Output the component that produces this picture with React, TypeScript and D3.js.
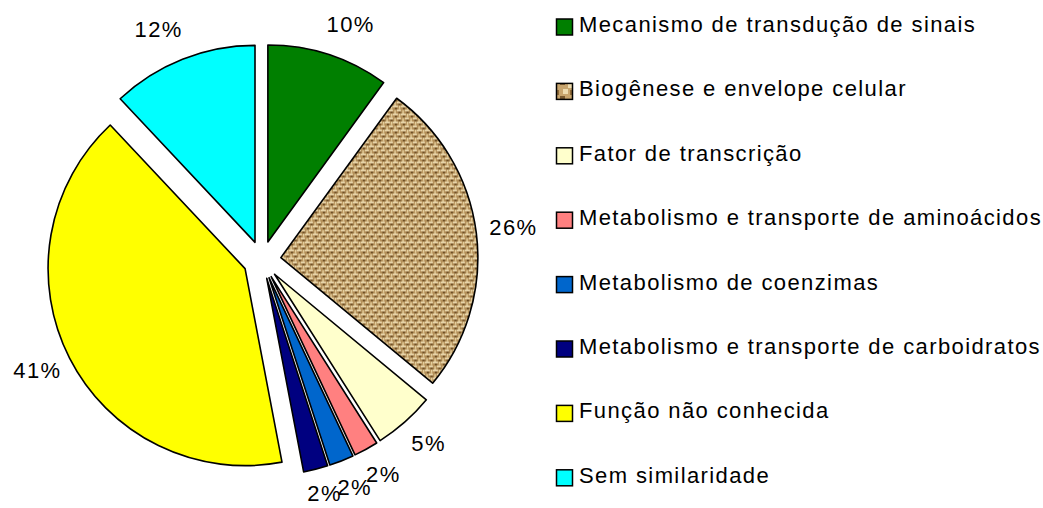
import * as d3 from 'd3'

const WIDTH = 1043
const HEIGHT = 508
const CX = 262
const CY = 260
const RADIUS = 197
const EXPLODE = 19
// data labels sit on an ellipse round the pie, like the spreadsheet did it
const LABEL_RX = 252
const LABEL_RY = 246
const LABEL_CY = 258

const categories = [
  'Mecanismo de transdução de sinais',
  'Biogênese e envelope celular',
  'Fator de transcrição',
  'Metabolismo e transporte de aminoácidos',
  'Metabolismo de coenzimas',
  'Metabolismo e transporte de carboidratos',
  'Função não conhecida',
  'Sem similaridade',
]
const shares = [10, 26, 5, 2, 2, 2, 41, 12]
const fills = [
  '#007F00',
  'url(#burlap)',
  '#FFFFCC',
  '#FF8080',
  '#0066CC',
  '#000080',
  '#FFFF00',
  '#00FFFF',
]

const FONT = '"Liberation Sans", Arial, sans-serif'
const FONT_SIZE = 22
const SPACING = 1.4
const CHAR_W = 11.7

export default function App() {
  const pie = d3
    .pie<number>()
    .sort(null)
    .value((d) => d)
  const arcs = pie(shares)
  const arc = d3.arc<d3.PieArcDatum<number>>().innerRadius(0).outerRadius(RADIUS)

  const legendY = d3
    .scalePoint<string>()
    .domain(categories)
    .range([32, 482.8])

  // place the percentage labels, then nudge the crowded bottom ones apart
  const labels = arcs.map((a, i) => {
    const mid = (a.startAngle + a.endAngle) / 2
    const text = `${shares[i]}%`
    const halfW = (text.length * CHAR_W) / 2
    const upper = Math.cos(mid) > 0
    const shift = upper ? Math.sign(Math.sin(mid)) * halfW * Math.cos(mid) * 0.65 : 0
    return {
      key: categories[i],
      text,
      halfW,
      upper,
      x: CX + Math.sin(mid) * LABEL_RX + shift,
      y: Math.min(LABEL_CY - Math.cos(mid) * LABEL_RY + 8, HEIGHT - 7),
    }
  })
  const lower = labels.filter((l) => !l.upper).sort((p, q) => p.x - q.x)
  for (let k = 1; k < lower.length; k++) {
    const prev = lower[k - 1]
    const cur = lower[k]
    const minX = prev.x + prev.halfW + 2 + cur.halfW
    if (cur.x < minX) cur.x = minX
  }

  return (
    <svg
      width={WIDTH}
      height={HEIGHT}
      style={{ position: 'absolute', left: 0, top: 0, background: '#fff' }}
    >
      <defs>
        <pattern id="burlap" width="8" height="8" patternUnits="userSpaceOnUse">
          <rect width="8" height="8" fill="#B38F58" />
          <rect x="0" y="0" width="5" height="1.5" fill="#F4E4BC" />
          <rect x="4" y="4" width="4" height="1.5" fill="#F4E4BC" />
          <rect x="6" y="0" width="1.3" height="3.5" fill="#EAD5A4" />
          <rect x="1.5" y="4.5" width="1.3" height="3.5" fill="#EAD5A4" />
          <rect x="2" y="2" width="2.2" height="1.6" fill="#62421C" />
          <rect x="5.5" y="6" width="2.2" height="1.6" fill="#62421C" />
          <rect x="0" y="6.5" width="1" height="1" fill="#7E5E30" />
        </pattern>
        <pattern id="burlapKey" width="16" height="16" patternUnits="userSpaceOnUse">
          <rect width="16" height="16" fill="#C8A56E" />
          <rect x="0" y="0" width="5" height="5" fill="#7A5A30" />
          <rect x="8" y="3" width="5" height="5" fill="#EEDCB0" />
          <rect x="3" y="9" width="5" height="5" fill="#EEDCB0" />
          <rect x="10" y="10" width="5" height="5" fill="#8E6A38" />
        </pattern>
      </defs>

      <g transform={`translate(${CX},${CY})`}>
        {arcs.map((a, i) => {
          const mid = (a.startAngle + a.endAngle) / 2
          const dx = Math.sin(mid) * EXPLODE
          const dy = -Math.cos(mid) * EXPLODE
          return (
            <path
              key={categories[i]}
              d={arc(a) ?? ''}
              transform={`translate(${dx},${dy})`}
              fill={fills[i]}
              stroke="#000"
              strokeWidth={1.6}
              strokeLinejoin="round"
            />
          )
        })}
      </g>

      <g>
        {labels.map((l) => (
          <text
            key={`lbl-${l.key}`}
            x={l.x}
            y={l.y}
            textAnchor="middle"
            fontFamily={FONT}
            fontSize={FONT_SIZE}
            letterSpacing={SPACING}
            fill="#000"
          >
            {l.text}
          </text>
        ))}
      </g>

      <g>
        {categories.map((c, i) => {
          const y = legendY(c) ?? 0
          return (
            <g key={`leg-${c}`}>
              <rect
                x={556.5}
                y={y - 13}
                width={16}
                height={16}
                fill={i === 1 ? 'url(#burlapKey)' : fills[i]}
                stroke="#000"
                strokeWidth={1.5}
              />
              <text
                x={579}
                y={y}
                fontFamily={FONT}
                fontSize={FONT_SIZE}
                letterSpacing={SPACING}
                fill="#000"
              >
                {c}
              </text>
            </g>
          )
        })}
      </g>
    </svg>
  )
}
